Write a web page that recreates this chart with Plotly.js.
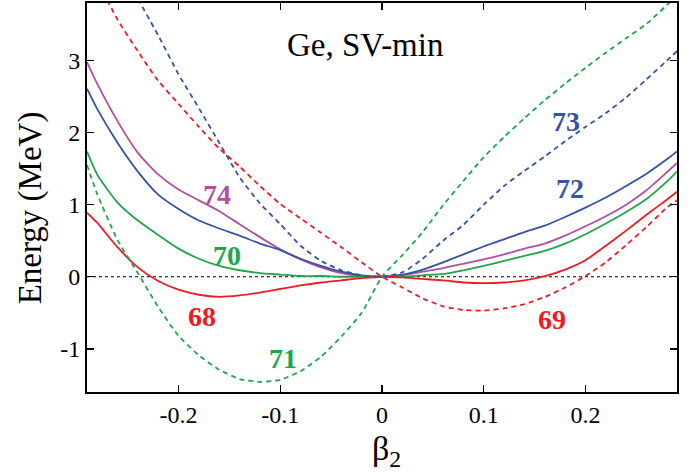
<!DOCTYPE html>
<html>
<head>
<meta charset="utf-8">
<script src="https://cdn.plot.ly/plotly-3.0.1.min.js"></script>
<style>html,body{margin:0;padding:0;background:#fff;}#chart{width:691px;height:475px;}</style>
</head>
<body>
<div id="chart"></div>
<script>
// beta_2 grid (deformation)
const beta = [-0.29,-0.28,-0.26,-0.24,-0.22,-0.20,-0.18,-0.16,-0.14,-0.12,-0.10,-0.08,-0.06,-0.04,-0.02,0,
              0.02,0.04,0.06,0.08,0.10,0.12,0.14,0.16,0.18,0.20,0.22,0.24,0.26,0.28,0.29];

// Even isotopes (solid)
const e68 = [0.89,0.75,0.41,0.13,-0.06,-0.18,-0.25,-0.28,-0.26,-0.22,-0.17,-0.12,-0.08,-0.05,-0.02,0,
             -0.01,-0.03,-0.05,-0.08,-0.09,-0.08,-0.05,0.01,0.10,0.23,0.43,0.64,0.86,1.07,1.18];
const e70 = [1.74,1.42,1.03,0.78,0.58,0.39,0.25,0.15,0.09,0.05,0.03,0.01,0.01,0.00,0.00,0,
             0.00,0.02,0.04,0.09,0.15,0.22,0.29,0.36,0.46,0.59,0.74,0.90,1.08,1.32,1.46];
const e72 = [2.61,2.33,1.86,1.46,1.14,0.94,0.78,0.67,0.57,0.46,0.37,0.25,0.15,0.07,0.02,0,
             0.03,0.10,0.20,0.31,0.42,0.52,0.62,0.71,0.83,0.96,1.10,1.26,1.43,1.63,1.74];
const e74 = [2.98,2.68,2.16,1.72,1.42,1.21,1.06,0.91,0.73,0.55,0.38,0.24,0.13,0.05,0.01,0,
             0.02,0.07,0.12,0.18,0.24,0.31,0.39,0.46,0.57,0.70,0.84,1.00,1.20,1.45,1.58];

// Odd isotopes (dashed)
const beta69 = [-0.27,-0.26,-0.24,-0.22,-0.20,-0.18,-0.16,-0.14,-0.12,-0.10,-0.08,-0.06,-0.04,-0.02,0,
                0.02,0.04,0.06,0.08,0.10,0.12,0.14,0.16,0.18,0.20,0.22,0.24,0.26,0.28,0.29];
const e69 = [3.84,3.57,3.13,2.72,2.40,2.08,1.78,1.53,1.26,1.01,0.81,0.61,0.41,0.20,0,
             -0.15,-0.30,-0.41,-0.46,-0.47,-0.44,-0.38,-0.28,-0.15,0.01,0.20,0.44,0.69,0.96,1.06];
const e71 = [1.55,1.15,0.51,0.05,-0.42,-0.82,-1.09,-1.29,-1.42,-1.46,-1.43,-1.31,-1.11,-0.83,-0.50,0,
             0.30,0.62,0.99,1.33,1.66,1.94,2.20,2.45,2.68,2.90,3.11,3.31,3.51,3.77,3.90];
const beta73 = [-0.24,-0.22,-0.20,-0.18,-0.16,-0.14,-0.12,-0.10,-0.08,-0.06,-0.04,-0.02,0,
                0.02,0.04,0.06,0.08,0.10,0.12,0.14,0.16,0.18,0.20,0.22,0.24,0.26,0.28,0.29];
const e73 = [3.86,3.35,2.81,2.34,1.86,1.38,1.02,0.73,0.43,0.22,0.09,0.02,0,
             0.06,0.25,0.50,0.72,1.00,1.26,1.47,1.67,1.88,2.08,2.27,2.49,2.74,3.00,3.13];

const labels = ["68","69","70","71","72","73","74"];
const xTicks = [-0.2,-0.1,0,0.1,0.2];
const xTickText = ["-0.2","-0.1","0","0.1","0.2"];
const yTicks = [-1,0,1,2,3];
const yTickText = ["-1","0","1","2","3"];

const RED = '#ec1c24', GREEN = '#1fa64a', BLUE = '#3553a3', MAG = '#b0509e';
const dash = '5px,4px';
const sp = {shape: 'spline', smoothing: 0.6};

const traces = [
  {x: beta, y: e74, mode: 'lines', line: Object.assign({color: MAG, width: 1.8}, sp)},
  {x: beta, y: e72, mode: 'lines', line: Object.assign({color: BLUE, width: 1.8}, sp)},
  {x: beta, y: e70, mode: 'lines', line: Object.assign({color: GREEN, width: 1.8}, sp)},
  {x: beta, y: e68, mode: 'lines', line: Object.assign({color: RED, width: 1.8}, sp)},
  {x: beta73, y: e73, mode: 'lines', line: Object.assign({color: BLUE, width: 1.8, dash: dash}, sp)},
  {x: beta69, y: e69, mode: 'lines', line: Object.assign({color: RED, width: 1.8, dash: dash}, sp)},
  {x: beta, y: e71, mode: 'lines', line: Object.assign({color: GREEN, width: 1.8, dash: dash}, sp)}
];

const serif = 'Liberation Serif';
const lab = (t, x, y, c) => ({text: '<b>' + t + '</b>', x: x, y: y, xref: 'x', yref: 'y', showarrow: false,
  xanchor: 'center', yanchor: 'middle', font: {family: serif, size: 28, color: c}});

const layout = {
  width: 691, height: 475,
  margin: {l: 87, r: 14, t: 3, b: 83},
  paper_bgcolor: '#fff', plot_bgcolor: '#fff',
  showlegend: false,
  font: {family: serif, size: 24, color: '#000'},
  xaxis: {range: [-0.29, 0.29], tickvals: xTicks, ticktext: xTickText, ticks: 'inside', ticklen: 7, tickwidth: 1.5,
          tickcolor: '#000', showline: true, linewidth: 2, linecolor: '#000', mirror: 'ticks',
          showgrid: false, zeroline: false, tickfont: {family: serif, size: 24, color: '#000'}},
  yaxis: {range: [-1.6, 3.8], tickvals: yTicks, ticktext: yTickText, ticks: 'inside', ticklen: 7, tickwidth: 1.5,
          tickcolor: '#000', showline: true, linewidth: 2, linecolor: '#000', mirror: 'ticks',
          showgrid: false, zeroline: false, tickfont: {family: serif, size: 24, color: '#000'}},
  shapes: [{type: 'line', xref: 'paper', x0: 0, x1: 1, yref: 'y', y0: 0, y1: 0,
            line: {color: '#000', width: 1, dash: 'dot'}, layer: 'below'}],
  annotations: [
    lab(labels[6], -0.162, 1.14, MAG),
    lab(labels[2], -0.152, 0.30, GREEN),
    lab(labels[0], -0.177, -0.55, RED),
    lab(labels[3], -0.097, -1.14, GREEN),
    lab(labels[5], 0.181, 2.15, BLUE),
    lab(labels[4], 0.185, 1.22, BLUE),
    lab(labels[1], 0.167, -0.595, RED),
    {text: 'Ge, SV-min', xref: 'paper', yref: 'paper', x: 0.471, y: 0.892, showarrow: false,
     xanchor: 'center', yanchor: 'middle', font: {family: serif, size: 33, color: '#000'}},
    {text: 'Energy (MeV)', xref: 'paper', yref: 'paper', x: -0.096, y: 0.473, textangle: -90, showarrow: false,
     xanchor: 'center', yanchor: 'middle', font: {family: serif, size: 33, color: '#000'}},
    {text: 'β<sub>2</sub>', xref: 'paper', yref: 'paper', x: 0.507, y: -0.152, showarrow: false,
     xanchor: 'center', yanchor: 'middle', font: {family: serif, size: 34, color: '#000'}}
  ]
};

Plotly.newPlot('chart', traces, layout, {staticPlot: true, displayModeBar: false});
</script>
</body>
</html>
